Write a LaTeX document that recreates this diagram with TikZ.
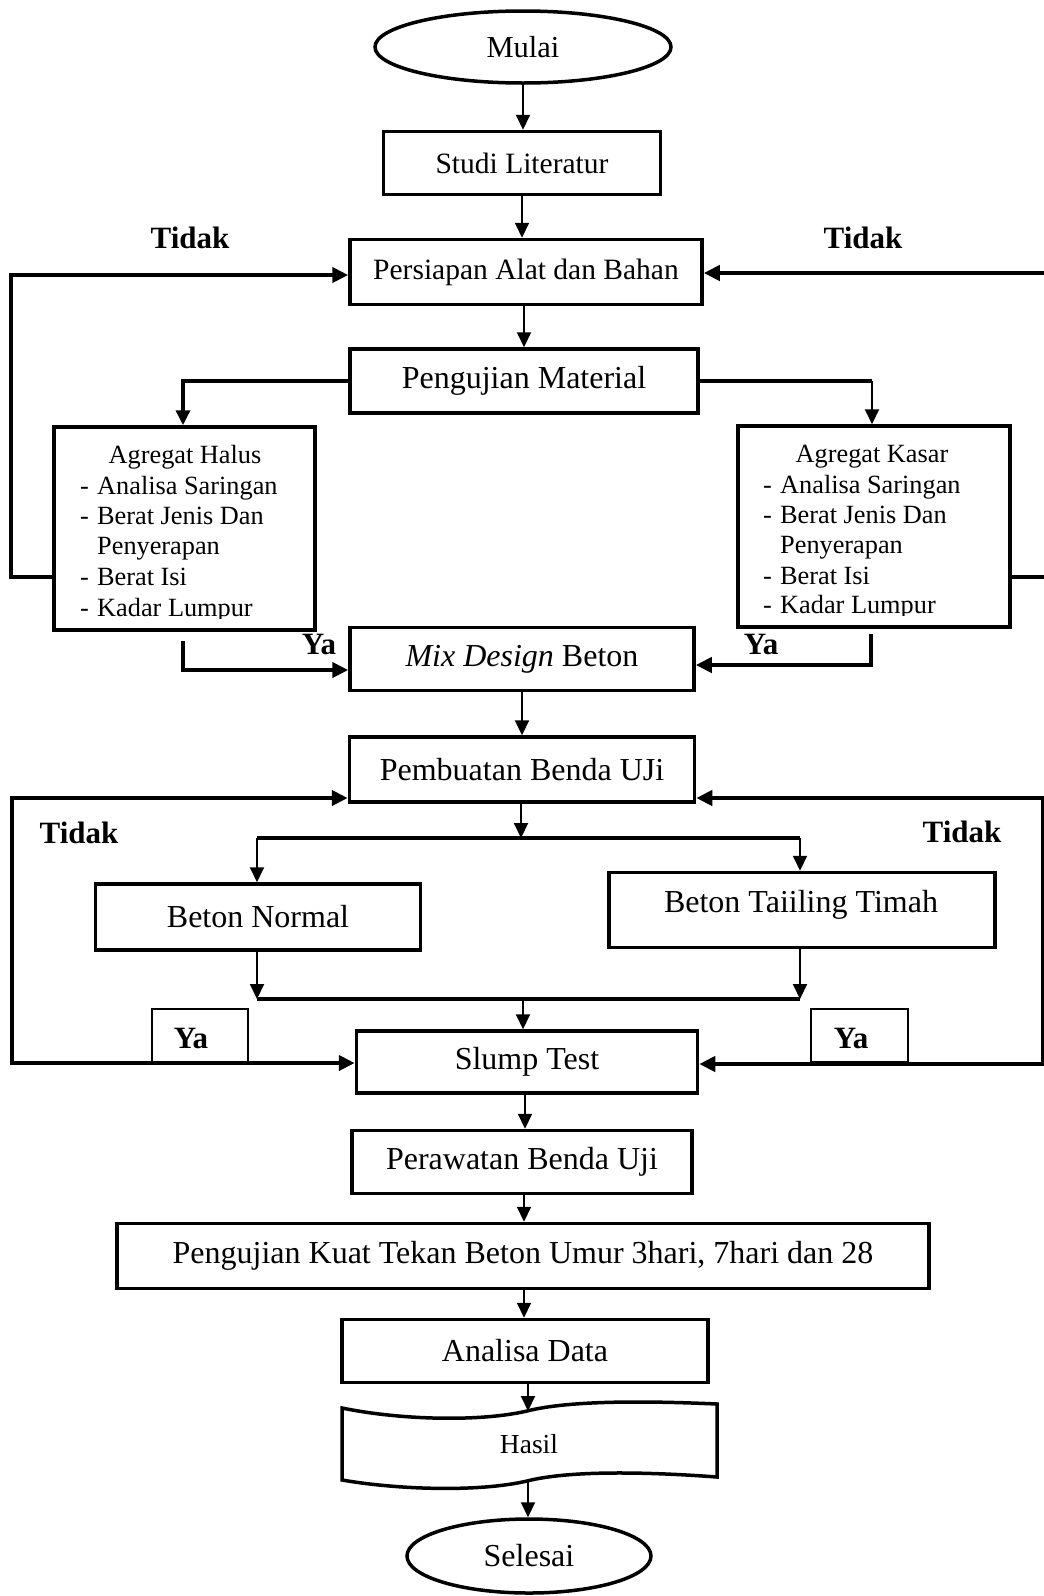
\documentclass[tikz,border=0pt]{standalone}
\usepackage{fontspec}
\setmainfont{Liberation Serif}
\usetikzlibrary{shapes.geometric,arrows.meta}
\newcommand\fsA{\fontsize{32}{38}\selectfont}
\newcommand\fsB{\fontsize{29.5}{35}\selectfont}
\newcommand\fsM{\fontsize{30.5}{36}\selectfont}
\newcommand\fsL{\fontsize{26.3}{31}\selectfont}
\newcommand\fsH{\fontsize{27.5}{33}\selectfont}
\newcommand\fsT{\fontsize{31}{36}\selectfont\bfseries}
\newcommand\fsY{\fontsize{31}{36}\selectfont\bfseries}
\tikzset{
  box/.style={draw, line width=3.5pt, rectangle, inner sep=0pt, align=center, font=\fsA},
  oval/.style={draw, ellipse, line width=3.5pt, inner sep=0pt},
  arr/.style={line width=2pt, -{Triangle[length=15pt,width=14pt]}},
  thk/.style={line width=4pt},
  thkarr/.style={line width=4pt, -{Triangle[length=16pt,width=15pt]}},
  dblarr/.style={line width=4pt, {Triangle[length=16pt,width=15pt]}-{Triangle[length=16pt,width=15pt]}},
  lbl/.style={font=\fsT, inner sep=0pt},
  yalbl/.style={font=\fsY, inner sep=0pt},
  yabox/.style={draw, line width=1.5pt, inner sep=0pt},
  item/.style={anchor=base west, inner sep=0pt, font=\fsL},
}
\begin{document}
\begin{tikzpicture}[x=1pt,y=-1pt]
\useasboundingbox (0,0) rectangle (1044,1596);

% main nodes
\node[oval, minimum width=296pt, minimum height=72pt, font=\fsM] (mulai) at (523,47) {Mulai};
\node[box, minimum width=277pt, minimum height=63pt, font=\fsB] (studi) at (522,163) {Studi Literatur};
\node[box, minimum width=352pt, minimum height=65pt, font=\fsB] (persiapan) at (526,272) {Persiapan Alat dan Bahan};
\node[box, minimum width=348pt, minimum height=64pt] (uji) at (524,381) {Pengujian Material};
\node[box, minimum width=261pt, minimum height=203pt] (halus) at (184.5,528.5) {};
\node[box, minimum width=272pt, minimum height=201pt] (kasar) at (874,526.5) {};

\begin{scope}
\clip (56,430) rectangle (313,618);
\node[item, anchor=base] (h0) at (185,463) {Agregat Halus};
\node[item] (h1) at (80,494) {\makebox[17pt][l]{-}Analisa Saringan};
\node[item] (h2) at (80,524) {\makebox[17pt][l]{-}Berat Jenis Dan};
\node[item] (h3) at (97,554) {Penyerapan};
\node[item] (h4) at (80,585) {\makebox[17pt][l]{-}Berat Isi};
\node[item] (h5) at (80,616) {\makebox[17pt][l]{-}Kadar Lumpur};
\end{scope}
\begin{scope}
\clip (740,430) rectangle (1008,615);
\node[item, anchor=base] (k0) at (872,462) {Agregat Kasar};
\node[item] (k1) at (763,493) {\makebox[17pt][l]{-}Analisa Saringan};
\node[item] (k2) at (763,523) {\makebox[17pt][l]{-}Berat Jenis Dan};
\node[item] (k3) at (780,553) {Penyerapan};
\node[item] (k4) at (763,584) {\makebox[17pt][l]{-}Berat Isi};
\node[item] (k5) at (763,613) {\makebox[17pt][l]{-}Kadar Lumpur};
\end{scope}

\node[box, minimum width=344pt, minimum height=63pt] (mix) at (522,659) {\textit{Mix Design} Beton};
\node[box, minimum width=345pt, minimum height=65pt] (buat) at (522,769.5) {Pembuatan Benda UJi};
\node[box, minimum width=325pt, minimum height=66pt] (normal) at (258,917) {Beton Normal};
\node[box, minimum width=386pt, minimum height=75pt] (tailing) at (802,910) {};
\node[font=\fsA, inner sep=0pt] (tailingtxt) at (801,905) {Beton Taiiling Timah};
\node[box, minimum width=341pt, minimum height=62pt] (slump) at (527,1062) {Slump Test};
\node[box, minimum width=340pt, minimum height=63pt] (rawat) at (522,1162) {Perawatan Benda Uji};
\node[box, minimum width=812pt, minimum height=65pt] (kuat) at (523,1256) {Pengujian Kuat Tekan Beton Umur 3hari, 7hari dan 28};
\node[box, minimum width=366pt, minimum height=63pt] (analisa) at (525,1351) {Analisa Data};

% Hasil (tape shape)
\draw[line width=3.5pt] (342,1408) .. controls (400,1420) and (480,1422) .. (527,1411)
  .. controls (570,1400) and (650,1401) .. (717,1404) -- (717,1477)
  .. controls (650,1472) and (570,1470) .. (527,1481)
  .. controls (480,1492) and (400,1490) .. (342,1480) -- cycle;
\node[font=\fsH, inner sep=0pt] (hasil) at (529,1444) {Hasil};
\coordinate (hasiltop) at (528,1411);
\coordinate (hasilbot) at (528,1481);
\node[oval, minimum width=244pt, minimum height=74pt, font=\fsA] (selesai) at (529,1556) {Selesai};

% labels
\node[lbl] (t1) at (190,238) {Tidak};
\node[lbl] (t2) at (863,238) {Tidak};
\node[lbl] (t3) at (79,833) {Tidak};
\node[lbl] (t4) at (962,832) {Tidak};
\node[yalbl] (y1) at (319,644) {Ya};
\node[yalbl] (y2) at (761,644) {Ya};
\node[yabox, minimum width=96pt, minimum height=53pt] (yb1) at (200,1035.5) {};
\node[yalbl] (y3) at (191,1038) {Ya};
\node[yabox, minimum width=97pt, minimum height=53pt] (yb2) at (859.5,1035.5) {};
\node[yalbl] (y4) at (851,1038) {Ya};

% straight arrows
\draw[arr] (mulai.south) -- (mulai.south |- studi.north);
\draw[arr] (studi.south) -- (studi.south |- persiapan.north);
\draw[arr] ([xshift=-2pt]persiapan.south) -- ([xshift=-2pt]persiapan.south |- uji.north);
\draw[arr] (mix.south) -- (mix.south |- buat.north);

% material branches
\draw[line width=3.5pt, -{Triangle[length=15pt,width=14pt]}] (uji.west) -| ([xshift=-1.5pt]halus.north);
\draw[line width=3.5pt] (uji.east) -- ([xshift=-2pt]kasar.north |- uji.east);
\draw[arr] ([xshift=-2pt]kasar.north |- uji.east) -- ([xshift=-2pt]kasar.north);

% Tidak loops (top)
\draw[thkarr] ([yshift=-48.5pt]halus.west) -- ++(-41,0) |- ([yshift=-3pt]persiapan.west);
\draw[thkarr] ([yshift=-50.5pt]kasar.east) -- ++(40,0) |- ([yshift=-1pt]persiapan.east);

% Ya to mix design
\draw[thkarr] ([xshift=-1.5pt,yshift=-9pt]halus.south) |- ([yshift=-11pt]mix.west);
\draw[thkarr] ([xshift=-3pt,yshift=-5pt]kasar.south) |- ([yshift=-6pt]mix.east);

% branch to concretes
\coordinate (b0) at (521,838);
\coordinate (bL) at (257,838);
\coordinate (bR) at (800,838);
\draw[arr] (buat.south -| b0) -- (b0);
\draw[thk] (bL) -- (bR);
\draw[arr] (bL) -- (bL |- normal.north);
\draw[arr] (bR) -- (bR |- tailing.north);

\coordinate (cL) at (257,999);
\coordinate (cR) at (800,999);
\coordinate (c0) at (523,999);
\draw[arr] (normal.south -| cL) -- (cL);
\draw[arr] (tailing.south -| cR) -- (cR);
\draw[thk] (cL) -- (cR);
\draw[arr] (c0) -- (c0 |- slump.north);

% Tidak / Ya loops (bottom)
\draw[dblarr] ([yshift=-28.5pt]buat.west) -- ++(-336,0) |- ([yshift=-1pt]slump.west);
\draw[dblarr] ([yshift=-28.5pt]buat.east) -- ++(347,0) |- ([yshift=-2pt]slump.east);

% lower chain
\draw[arr] ([xshift=-2pt]slump.south) -- ([xshift=-2pt]slump.south |- rawat.north);
\draw[arr] ([xshift=2pt]rawat.south) -- ([xshift=2pt]rawat.south |- kuat.north);
\draw[arr] ([xshift=1pt]kuat.south) -- ([xshift=1pt]kuat.south |- analisa.north);
\draw[arr] (analisa.south -| hasiltop) -- (hasiltop);
\draw[arr] (hasilbot) -- (hasilbot |- selesai.north);
\end{tikzpicture}
\end{document}
